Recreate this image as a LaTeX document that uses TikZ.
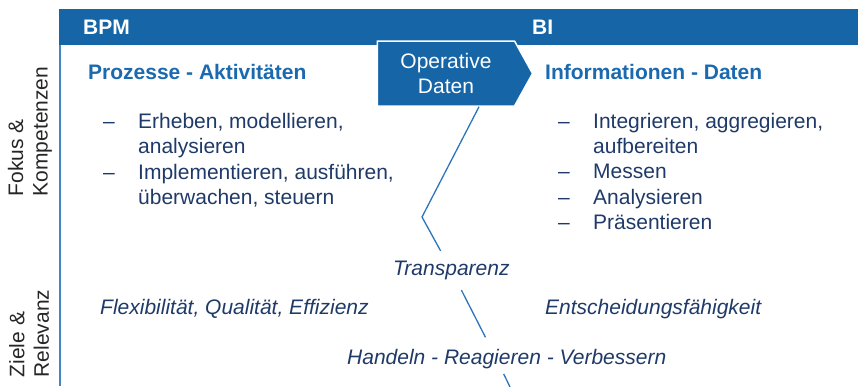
\documentclass[tikz,border=0pt]{standalone}
\usepackage{fontspec}
\setmainfont{Liberation Sans}
\usepackage{tikz}
\usetikzlibrary{shapes.symbols}

\definecolor{kopfblau}{HTML}{1565A7}
\definecolor{titelblau}{HTML}{1B69AF}
\definecolor{textblau}{HTML}{1F3A68}
\definecolor{linienblau}{HTML}{2C74BC}
\definecolor{randblau}{HTML}{4585C5}

\newcommand{\groesse}{\fontsize{21}{24.5}\selectfont}

\begin{document}
\begin{tikzpicture}[x=1pt, y=-1pt, font=\groesse]
    \tikzstyle{kopf} = [anchor=base west, inner sep=0pt, text=white, font=\groesse\bfseries]
    \tikzstyle{titel} = [anchor=base west, inner sep=0pt, text=titelblau, font=\groesse\bfseries]
    \tikzstyle{liste} = [anchor=north west, inner sep=0pt, text=textblau]
    \tikzstyle{ziel} = [anchor=base west, inner sep=0pt, text=textblau, font=\groesse\itshape]
    \tikzstyle{achse} = [rotate=90, align=left, inner sep=0pt, text=black!85]
    \tikzstyle{linie} = [draw=linienblau, line width=1.3pt]
    \tikzstyle{daten} = [signal, signal to=east, signal pointer angle=122, fill=kopfblau, draw=white, line width=1.5pt, minimum height=65pt, inner xsep=23pt, text=white, align=center]

    \useasboundingbox (0,0) rectangle (858,386);

    % Kopfzeile und linker Rand
    \fill[kopfblau] (59,9) rectangle (858,45);
    \draw[randblau, line width=2pt] (60,45) -- (60,386);

    \node (bpm) [kopf] at (83,34.5) {BPM};
    \node (bi) [kopf] at (532,34.5) {BI};

    \node (fokus) [achse] at (30,131.5) {Fokus \&\\Kompetenzen};
    \node (ziele) [achse] at (29,333.5) {Ziele \&\\Relevanz};

    % Fokus & Kompetenzen
    \node (prozesse) [titel] at (88,79.5) {Prozesse - Aktivitäten};
    \node (infos) [titel] at (545,79.5) {Informationen - Daten};
    \node (opdaten) [daten] at (446,73.5) {Operative\\Daten};

    \node (bpmliste) [liste] at (103,111.4) {\begin{tabular}{@{}p{35pt}@{}l@{}}
        –&Erheben, modellieren,\\
        &analysieren\\[2pt]
        –&Implementieren, ausführen,\\
        &überwachen, steuern
    \end{tabular}};
    \node (biliste) [liste] at (558,111.4) {\begin{tabular}{@{}p{35pt}@{}l@{}}
        –&Integrieren, aggregieren,\\
        &aufbereiten\\[1pt]
        –&Messen\\[1pt]
        –&Analysieren\\[1pt]
        –&Präsentieren
    \end{tabular}};

    % Ziele & Relevanz
    \node (trans) [ziel, inner ysep=10pt] at (393,275.5) {Transparenz};
    \node (flex) [ziel] at (100,314.5) {Flexibilität, Qualität, Effizienz};
    \node (entsch) [ziel] at (545,314.5) {Entscheidungsfähigkeit};
    \node (handeln) [ziel] at (347,364.5) {Handeln - Reagieren - Verbessern};

    \coordinate (abgang) at ([xshift=33pt]opdaten.south);
    \coordinate (knick) at (422,217);
    \coordinate (kreuz) at (495,356);
    \coordinate (unten) at (510,387);

    \draw [linie] (abgang) -- (knick) -- (trans);
    \draw [linie, shorten >=21pt] (trans) -- (kreuz);
    \draw [linie, shorten <=20pt] (kreuz) -- (unten);
\end{tikzpicture}
\end{document}
